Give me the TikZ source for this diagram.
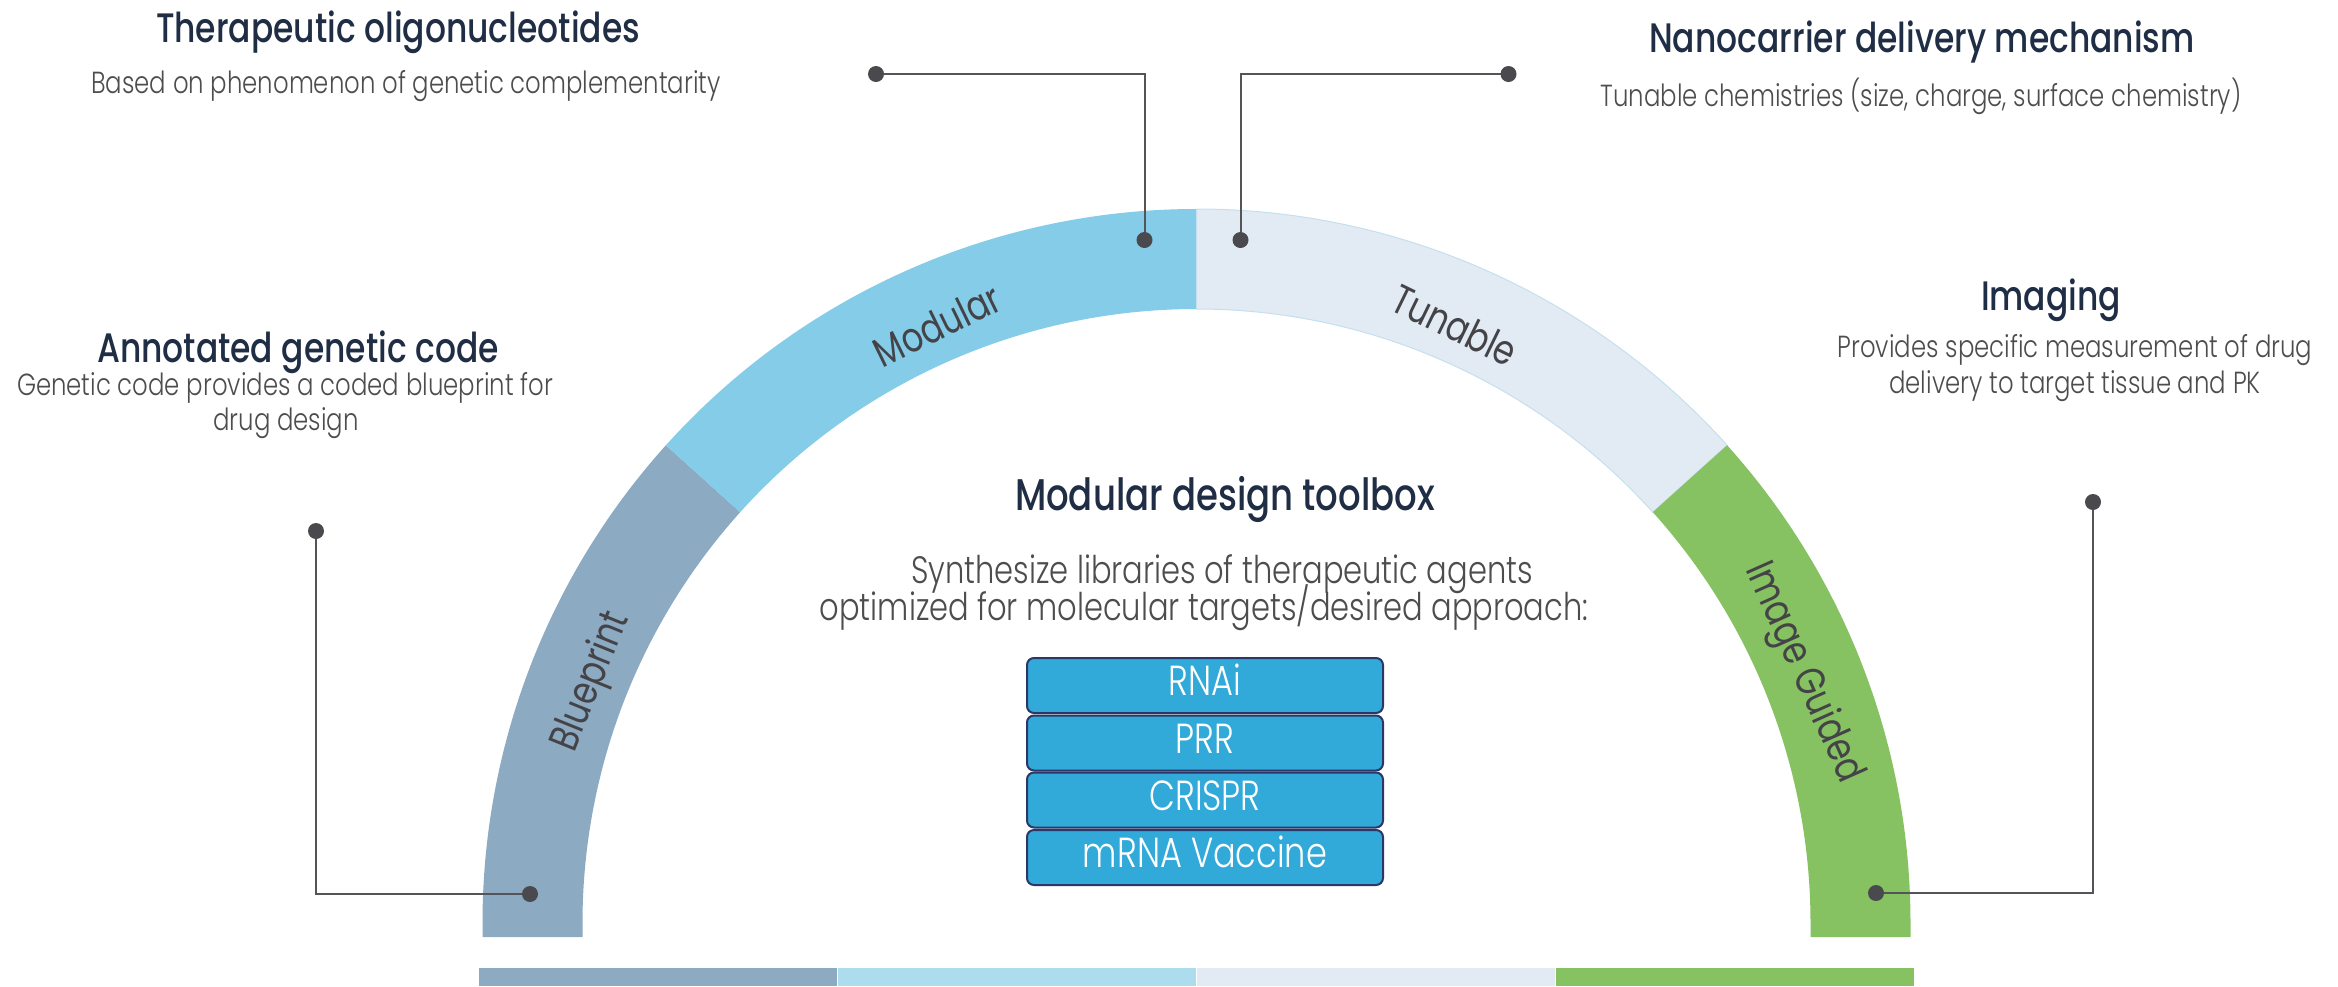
\documentclass[tikz,border=0pt]{standalone}
\usepackage{fontspec}
\setmainfont{Poppins}
\IfFontExistsTF{Poppins Light}{\newfontfamily\subf[FakeStretch=0.8]{Poppins Light}}{\newfontfamily\subf[FakeStretch=0.8]{Poppins}}
\IfFontExistsTF{Poppins Medium}{\newfontfamily\titf[FakeStretch=0.8]{Poppins Medium}}{\newfontfamily\titf[FakeStretch=0.8]{Poppins}}
\newfontfamily\regf[FakeStretch=0.8]{Poppins}
\usetikzlibrary{calc}
\definecolor{bpc}{HTML}{8DAAC3}
\definecolor{modc}{HTML}{84CCE8}
\definecolor{modlight}{HTML}{ACDCEE}
\definecolor{tunc}{HTML}{E2EBF4}
\definecolor{tunedge}{HTML}{C4E0EF}
\definecolor{grc}{HTML}{86C261}
\definecolor{navy}{HTML}{1F2D45}
\definecolor{subgray}{HTML}{4D4D4F}
\definecolor{labgray}{HTML}{444448}
\definecolor{dotc}{HTML}{4A4A4E}
\definecolor{leadc}{HTML}{555559}
\definecolor{boxfill}{HTML}{31AAD9}
\definecolor{boxedge}{HTML}{2B3766}
\tikzset{
  ttl/.style={anchor=base, inner sep=0pt, text=navy, font=\titf\fontsize{12.35}{15}\selectfont},
  sub/.style={anchor=base, inner sep=0pt, text=subgray, font=\subf\fontsize{9.15}{12}\selectfont},
  ctl/.style={anchor=base, inner sep=0pt, text=navy, font=\titf\fontsize{13.3}{15}\selectfont},
  csub/.style={anchor=base, inner sep=0pt, text=subgray, font=\subf\fontsize{11.45}{13}\selectfont},
  arcl/.style={inner sep=0pt, text=labgray, font=\regf\fontsize{12.4}{15}\selectfont},
  tbox/.style={draw=boxedge, line width=0.6pt, fill=boxfill, rounded corners=2.1pt,
    minimum width=106.8pt, minimum height=16.5pt, inner sep=0pt, text=white,
    text height=6.1pt, text depth=0pt, font=\subf\fontsize{12.6}{15}\selectfont},
  dotn/.style={circle, fill=dotc, inner sep=0pt, minimum size=4.8pt},
  lead/.style={draw=leadc, line width=0.6pt}
}
\begin{document}
\begin{tikzpicture}[x=0.3pt, y=-0.3pt]
\path[use as bounding box, fill=white] (0,0) rectangle (2338,986);
\coordinate (C) at (1196.5,923);
% arc segments
\fill[bpc] ($(C)+(-138:714)$) arc[start angle=-138,end angle=-180,radius=714] -- ++(0,14) -- ++(100,0) -- ($(C)+(-180:614)$) arc[start angle=-180,end angle=-138,radius=614] -- cycle;
\fill[modc] ($(C)+(-90:714)$) arc[start angle=-90,end angle=-138,radius=714] -- ($(C)+(-138:614)$) arc[start angle=-138,end angle=-90,radius=614] -- cycle;
\filldraw[fill=tunc, draw=tunedge, line width=0.3pt] ($(C)+(-42:714)$) arc[start angle=-42,end angle=-90,radius=714] -- ($(C)+(-90:614)$) arc[start angle=-90,end angle=-42,radius=614] -- cycle;
\fill[grc] ($(C)+(0:714)$) ++(0,14) -- ($(C)+(0:714)$) arc[start angle=0,end angle=-42,radius=714] -- ($(C)+(-42:614)$) arc[start angle=-42,end angle=0,radius=614] -- ++(0,14) -- cycle;
% bottom strip
\fill[bpc] (479,968) rectangle (836.5,986);
\fill[modlight] (838,968) rectangle (1195.5,986);
\fill[tunc] (1197,968) rectangle (1554.5,986);
\fill[grc] (1556,968) rectangle (1914,986);
% arc labels
\node[arcl, rotate=68] (lb) at (592,682) {Blueprint};
\node[arcl, rotate=26] (lm) at (937,325) {Modular};
\node[arcl, rotate=-26] (lt) at (1455,325) {Tunable};
\node[arcl, rotate=-66] (lg) at (1803,673) {Image Guided};
% leader lines
\coordinate (tA) at (876,74);
\coordinate (tB) at (1144.5,240);
\coordinate (nA) at (1508.5,74);
\coordinate (nB) at (1240.5,240);
\coordinate (aA) at (316,531);
\coordinate (aB) at (530,894);
\coordinate (iA) at (2093,502);
\coordinate (iB) at (1876,893);
\draw[lead] (tA) -| (tB);
\draw[lead] (nA) -| (nB);
\draw[lead] (aA) |- (aB);
\draw[lead] (iA) |- (iB);
\foreach \p in {tA,tB,nA,nB,aA,aB,iA,iB}{\node[dotn] (dot\p) at (\p) {};}
% texts
\node[ttl] (t1) at (398,42) {Therapeutic oligonucleotides};
\node[sub] (s1) at (406,93) {Based on phenomenon of genetic complementarity};
\node[ttl] (t2) at (1922,52) {Nanocarrier delivery mechanism};
\node[sub] (s2) at (1921,106) {Tunable chemistries (size, charge, surface chemistry)};
\node[ttl] (t3) at (298,362) {Annotated genetic code};
\node[sub] (s3a) at (285,395) {Genetic code provides a coded blueprint for};
\node[sub] (s3b) at (286,430) {drug design};
\node[ttl] (t4) at (2051,310) {Imaging};
\node[sub] (s4a) at (2075,357) {Provides specific measurement of drug};
\node[sub] (s4b) at (2075,393) {delivery to target tissue and PK};
\node[ctl] (ct) at (1225,510) {Modular design toolbox};
\node[csub] (cs1) at (1222,583) {Synthesize libraries of therapeutic agents};
\node[csub] (cs2) at (1204,620) {optimized for molecular targets/desired approach:};
% boxes
\node[tbox] (b1) at (1205,685.5) {RNAi};
\node[tbox] (b2) at (1205,743) {PRR};
\node[tbox] (b3) at (1205,800) {CRISPR};
\node[tbox] (b4) at (1205,857.5) {mRNA Vaccine};
\end{tikzpicture}
\end{document}
